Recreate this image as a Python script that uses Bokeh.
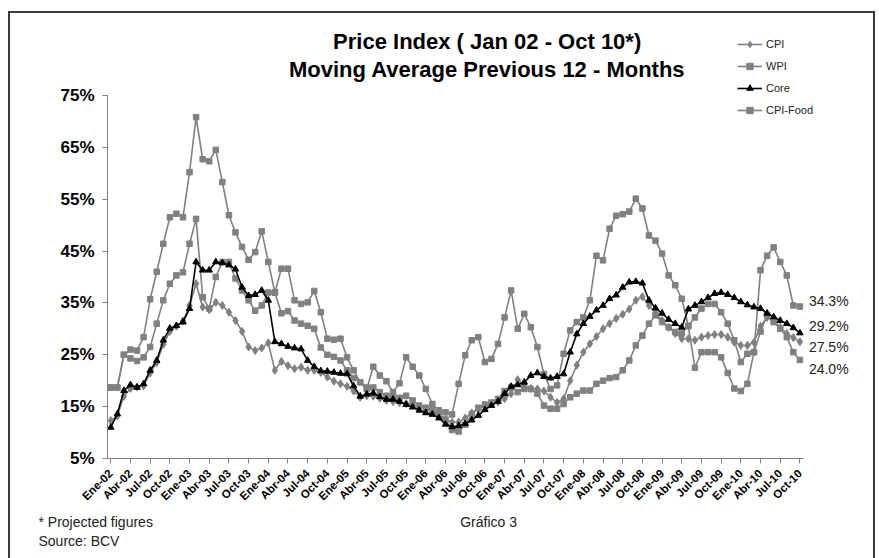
import math
from bokeh.plotting import figure
from bokeh.models import FixedTicker, Label, Range1d, Legend, LegendItem, Title
from bokeh.embed import file_html
from bokeh.resources import INLINE

# ---------------- data ----------------
mes = ["Ene", "Feb", "Mar", "Abr", "May", "Jun", "Jul", "Ago", "Sep", "Oct", "Nov", "Dic"]
months = [f"{mes[i % 12]}-{2 + i // 12:02d}" for i in range(106)]
tick_idx = list(range(0, 106, 3))

cpi = [12.3, 13.2, 17.0, 18.5, 18.8, 19.0, 21.5, 23.5, 27.0, 29.5, 30.5, 31.5,
       34.5, 38.7, 34.2, 33.7, 35.1, 34.5, 33.2, 31.6, 29.5, 26.5, 25.8, 26.3,
       27.3, 22.0, 23.7, 22.9, 22.3, 22.6, 22.0, 22.0, 21.6, 20.7, 19.9, 19.4,
       18.9, 18.0, 16.8, 17.1, 17.0, 16.6, 16.2, 16.0, 15.8, 15.6, 15.3, 15.0,
       14.5, 14.0, 13.5, 12.5, 12.0, 12.0, 12.8, 13.8, 14.5, 15.2, 15.5, 15.9,
       16.5, 17.5, 20.2, 19.0, 18.5, 18.4, 18.0, 16.8, 15.8, 16.5, 20.0, 23.0,
       25.5, 27.1, 28.5, 30.0, 31.0, 32.0, 32.8, 33.8, 35.5, 36.2, 34.5, 33.0,
       31.6, 30.3, 29.1, 28.1, 28.1, 27.8, 28.4, 28.7, 28.9, 28.9, 28.4, 27.4,
       26.8, 26.8, 27.4, 30.5, 32.2, 31.6, 30.3, 29.1, 28.3, 27.5]

wpi = [18.7, 18.7, 25.0, 24.3, 23.8, 24.5, 26.5, 31.0, 35.5, 38.7, 40.3, 40.9,
       46.4, 51.2, 36.1, 33.9, 40.0, 42.9, 42.9, 39.7, 37.4, 35.5, 33.5, 34.5,
       37.0, 37.0, 33.0, 33.4, 31.6, 31.0, 30.6, 30.0, 26.4, 25.0, 24.6, 23.9,
       22.0, 20.5, 19.7, 18.7, 18.7, 17.8, 17.1, 17.0, 16.7, 17.1, 16.2, 15.2,
       14.8, 14.3, 13.5, 12.5, 10.5, 10.2, 11.5, 13.5, 14.8, 15.4, 15.8, 16.5,
       18.0, 18.7, 17.8, 18.4, 18.4, 17.5, 15.2, 14.6, 14.6, 15.5, 16.8, 17.5,
       18.1, 18.1, 19.4, 20.0, 20.5, 20.7, 22.0, 23.9, 26.8, 28.7, 31.0, 32.6,
       31.3, 30.3, 29.4, 29.1, 30.6, 32.2, 33.9, 34.8, 34.8, 33.2, 31.0, 27.8,
       23.6, 25.2, 25.5, 29.5, 32.6, 31.3, 30.0, 28.4, 25.5, 24.0]

core = [11.0, 13.6, 18.1, 19.2, 18.7, 19.4, 22.0, 23.9, 27.8, 30.1, 30.6, 31.3,
        33.9, 42.9, 41.3, 41.3, 42.9, 42.7, 42.3, 41.5, 38.0, 36.4, 36.6, 37.4,
        35.5, 27.5, 27.1, 26.6, 26.3, 26.1, 23.9, 22.7, 21.9, 21.8, 21.6, 21.4,
        21.3, 19.0, 17.0, 17.4, 17.6, 16.9, 16.4, 16.4, 16.0, 15.4, 14.9, 14.3,
        13.8, 13.5, 12.8, 11.6, 11.1, 11.3, 11.7, 12.4, 13.3, 14.4, 15.2, 16.0,
        17.5, 18.9, 19.2, 19.7, 21.0, 21.5, 20.8, 20.5, 20.8, 21.3, 25.5, 29.0,
        31.0, 32.4, 33.6, 34.5, 35.8, 36.5, 38.0, 39.0, 39.1, 38.8, 35.5, 34.0,
        33.0, 31.8, 31.0, 30.3, 33.8, 34.5, 35.2, 36.0, 36.8, 37.0, 36.6, 36.0,
        35.2, 34.6, 34.2, 33.9, 33.0, 32.3, 31.6, 31.0, 30.2, 29.2]

food = [18.7, 18.7, 25.0, 26.0, 25.8, 28.4, 35.7, 41.0, 46.4, 51.5, 52.2, 51.5,
        60.2, 70.8, 62.7, 62.3, 64.5, 58.3, 51.9, 48.6, 45.8, 43.3, 44.8, 48.8,
        42.9, 37.0, 41.6, 41.6, 35.5, 34.8, 35.1, 37.3, 33.2, 28.1, 27.9, 28.1,
        24.5, 22.0, 19.7, 18.4, 22.7, 21.0, 19.9, 17.8, 19.5, 24.5, 22.7, 21.0,
        18.4, 15.5, 14.3, 13.9, 13.5, 19.4, 24.9, 27.8, 28.4, 23.6, 24.2, 27.1,
        32.2, 37.4, 30.0, 32.9, 30.3, 26.5, 21.3, 18.4, 19.1, 25.2, 29.7, 31.3,
        32.2, 35.5, 44.1, 43.2, 49.3, 51.8, 52.1, 52.6, 55.1, 53.2, 48.0, 47.0,
        44.5, 40.3, 38.4, 35.8, 30.5, 22.5, 25.5, 25.5, 25.5, 24.5, 21.5, 18.5,
        18.0, 19.4, 25.5, 41.3, 44.1, 45.7, 42.9, 40.3, 34.5, 34.3]

y_ticks = [5, 15, 25, 35, 45, 55, 65, 75]
x = list(range(len(months)))

# ---------------- figure ----------------
FONT = "Liberation Sans"
GRAY = "#808080"
EDGE = "linear-gradient(#3a3a3a,#3a3a3a)"

p = figure(width=879, height=558, output_backend="svg", toolbar_location=None,
           x_range=Range1d(-0.5, 116.67), y_range=Range1d(5, 90.6),
           min_border_left=107, min_border_right=3, min_border_top=14,
           min_border_bottom=100,
           styles={
               "background-color": "white",
               "background-image": f"{EDGE}, {EDGE}, {EDGE}",
               "background-size": "2px 700px, 866px 2px, 2px 700px",
               "background-position": "8px 11px, 8px 11px, 873px 11px",
               "background-repeat": "no-repeat",
           })
p.xgrid.visible = False
p.ygrid.visible = False
p.outline_line_color = None
p.background_fill_color = None
p.border_fill_color = None

# x axis
xa = p.xaxis[0]
xa.ticker = FixedTicker(ticks=tick_idx)
xa.major_label_overrides = {i: months[i] for i in tick_idx}
xa.bounds = (-0.5, 105.5)
xa.axis_line_color = GRAY
xa.major_tick_line_color = GRAY
xa.major_tick_in = 0
xa.major_tick_out = 5
xa.minor_tick_line_color = None
xa.major_label_orientation = math.pi / 4
xa.major_label_text_font = FONT
xa.major_label_text_font_style = "bold"
xa.major_label_text_font_size = "11.5px"
xa.major_label_text_color = "black"
xa.major_label_standoff = 8

# y axis
ya = p.yaxis[0]
ya.ticker = FixedTicker(ticks=y_ticks)
ya.major_label_overrides = {t: f"{t}%" for t in y_ticks}
ya.bounds = (5, 75)
ya.axis_line_color = GRAY
ya.major_tick_line_color = GRAY
ya.major_tick_in = 0
ya.major_tick_out = 5
ya.minor_tick_line_color = None
ya.major_label_text_font = FONT
ya.major_label_text_font_style = "bold"
ya.major_label_text_font_size = "17px"
ya.major_label_text_color = "black"
ya.major_label_standoff = 8

# series
series = [
    ("CPI-Food", food, GRAY, "square", 5.5),
    ("WPI", wpi, GRAY, "square", 5.5),
    ("CPI", cpi, GRAY, "diamond", 8),
    ("Core", core, "black", "triangle", 6.5),
]
items = {}
for name, vals, col, mk, sz in series:
    l = p.line(x, vals, line_color=col, line_width=1.6)
    s = p.scatter(x, vals, marker=mk, size=sz, fill_color=col, line_color=col)
    items[name] = [l, s]

legend = Legend(items=[LegendItem(label=n, renderers=items[n]) for n in ["CPI", "WPI", "Core", "CPI-Food"]],
                location=(630, 340), orientation="vertical",
                glyph_width=25, glyph_height=16, label_height=16, spacing=6,
                padding=0, margin=0, label_standoff=4,
                label_text_font=FONT, label_text_font_size="11px",
                label_text_color="#222222",
                border_line_color=None, background_fill_alpha=0)
p.add_layout(legend, "center")

# end labels
end_specs = [(food, 6), (core, 6.5), (cpi, -5.7), (wpi, -9.5)]
for vals, dy in end_specs:
    p.add_layout(Label(x=x[-1], y=vals[-1], x_offset=9, y_offset=dy,
                       text=f"{vals[-1]:.1f}%", text_font=FONT,
                       text_font_size="14px", text_color="#222222",
                       text_baseline="middle", text_align="left"))

# titles
p.add_layout(Label(x=57.35, y=85.4, text="Price Index ( Jan 02 - Oct 10*)",
                   text_font=FONT, text_font_style="bold", text_font_size="22px",
                   text_align="center", text_baseline="middle", text_color="black"))
p.add_layout(Label(x=57.35, y=80.0, text="Moving Average Previous 12 - Months",
                   text_font=FONT, text_font_style="bold", text_font_size="22px",
                   text_align="center", text_baseline="middle", text_color="black"))

# footnotes (below the axis)
NB = "\u00a0"
foot = Title(text="* Projected figures" + NB * 79 + "Gráfico 3" + "\n" + "Source: BCV",
             align="left", offset=-69, standoff=6, text_font=FONT,
             text_font_size="14px", text_font_style="normal",
             text_color="#222222", text_line_height=1.2)
p.add_layout(foot, "below")

open("out.html", "w").write(file_html(p, INLINE))
